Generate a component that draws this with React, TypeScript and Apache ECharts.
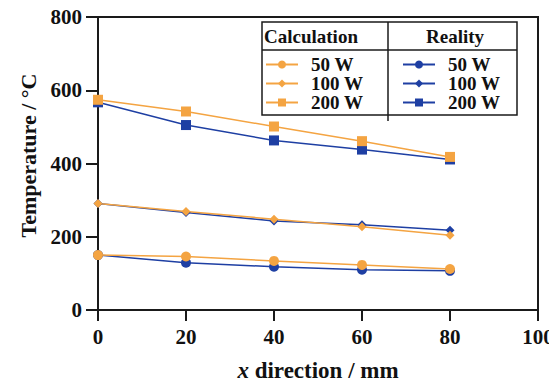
import React, { useEffect, useRef } from "react";
import * as echarts from "echarts";

const xValues = [0, 20, 40, 60, 80];
const calc50 = [150, 146, 134, 123, 112];
const calc100 = [291, 269, 248, 227, 204];
const calc200 = [574, 542, 501, 461, 418];
const real50 = [150, 129, 118, 110, 107];
const real100 = [291, 266, 243, 233, 218];
const real200 = [567, 505, 463, 438, 411];
const xTicks = { min: 0, max: 100, interval: 20 };
const yTicks = { min: 0, max: 800, interval: 200 };

const ORANGE = "#F4A442";
const BLUE = "#1E3FA3";
const FONT = "Liberation Serif";

function pairs(vals: number[]) {
  return xValues.map((x, i) => [x, vals[i]]);
}

export default function App() {
  const ref = useRef<HTMLDivElement>(null);
  useEffect(() => {
    if (!ref.current) return;
    const chart = echarts.init(ref.current, null, { renderer: "svg" });
    const mk = (name: string, vals: number[], color: string, symbol: string, size: number) => ({
      name,
      type: "line",
      data: pairs(vals),
      symbol,
      symbolSize: size,
      showAllSymbol: true,
      lineStyle: { color, width: 1.5 },
      itemStyle: { color },
      emphasis: { disabled: true },
    });
    const legendCommon = {
      orient: "vertical",
      itemWidth: 32,
      itemHeight: 10,
      itemGap: 0,
      selectedMode: false,
      formatter: (n: string) => n.replace(/^\S+ /, ""),
      textStyle: {
        fontFamily: FONT,
        fontWeight: "bold",
        fontSize: 19,
        color: "#111",
        lineHeight: 19,
        padding: [0, 0, 0, 8],
      },
    };
    const tickFont = { fontFamily: FONT, fontWeight: "bold", fontSize: 21, color: "#111" };
    chart.setOption({
      animation: false,
      backgroundColor: "#fff",
      grid: {
        left: 98,
        right: 19,
        top: 17,
        bottom: 76,
        show: true,
        borderColor: "#1a1a1a",
        borderWidth: 2,
      },
      xAxis: {
        type: "value",
        ...xTicks,
        name: "{i|x} direction / mm",
        nameLocation: "middle",
        nameGap: 49,
        nameTextStyle: {
          fontFamily: FONT,
          fontWeight: "bold",
          fontSize: 23,
          color: "#111",
          rich: {
            i: { fontFamily: FONT, fontStyle: "italic", fontWeight: "bold", fontSize: 23, color: "#111" },
          },
        },
        axisLine: { show: true, lineStyle: { color: "#1a1a1a", width: 2 } },
        axisTick: { show: true, length: 11, lineStyle: { color: "#1a1a1a", width: 2 } },
        axisLabel: { ...tickFont, margin: 16 },
        splitLine: { show: false },
      },
      yAxis: {
        type: "value",
        ...yTicks,
        name: "Temperature / °C",
        nameLocation: "middle",
        nameGap: 55,
        nameTextStyle: {
          fontFamily: FONT,
          fontWeight: "bold",
          fontSize: 22,
          color: "#111",
          padding: [0, 0, 0, 16],
        },
        axisLine: { show: true, lineStyle: { color: "#1a1a1a", width: 2 } },
        axisTick: { show: true, length: 12, lineStyle: { color: "#1a1a1a", width: 2 } },
        axisLabel: { ...tickFont, margin: 16 },
        splitLine: { show: false },
      },
      legend: [
        {
          ...legendCommon,
          left: 260,
          top: 50,
          data: ["Calculation 50 W", "Calculation 100 W", "Calculation 200 W"],
        },
        {
          ...legendCommon,
          left: 397,
          top: 50,
          data: ["Reality 50 W", "Reality 100 W", "Reality 200 W"],
        },
      ],
      graphic: [
        {
          type: "rect",
          shape: { x: 262, y: 22, width: 255, height: 93 },
          style: { fill: "#fff", stroke: "#1a1a1a", lineWidth: 1.5 },
          z: 1,
        },
        {
          type: "line",
          shape: { x1: 262, y1: 50, x2: 517, y2: 50 },
          style: { stroke: "#1a1a1a", lineWidth: 1.5 },
          z: 2,
        },
        {
          type: "line",
          shape: { x1: 388, y1: 22, x2: 388, y2: 121 },
          style: { stroke: "#1a1a1a", lineWidth: 1.5 },
          z: 2,
        },
        {
          type: "text",
          x: 264,
          y: 36,
          style: {
            text: "Calculation",
            font: `bold 19px "${FONT}"`,
            fill: "#111",
            textVerticalAlign: "middle",
          },
          z: 3,
        },
        {
          type: "text",
          x: 455,
          y: 36,
          style: {
            text: "Reality",
            font: `bold 19px "${FONT}"`,
            fill: "#111",
            textAlign: "center",
            textVerticalAlign: "middle",
          },
          z: 3,
        },
      ],
      series: [
        mk("Reality 50 W", real50, BLUE, "circle", 10),
        mk("Reality 100 W", real100, BLUE, "diamond", 9),
        mk("Reality 200 W", real200, BLUE, "rect", 10),
        mk("Calculation 50 W", calc50, ORANGE, "circle", 10),
        mk("Calculation 100 W", calc100, ORANGE, "diamond", 9),
        mk("Calculation 200 W", calc200, ORANGE, "rect", 10),
      ],
    });
    return () => chart.dispose();
  }, []);
  return <div ref={ref} style={{ width: 557, height: 387, margin: -8 }} />;
}
